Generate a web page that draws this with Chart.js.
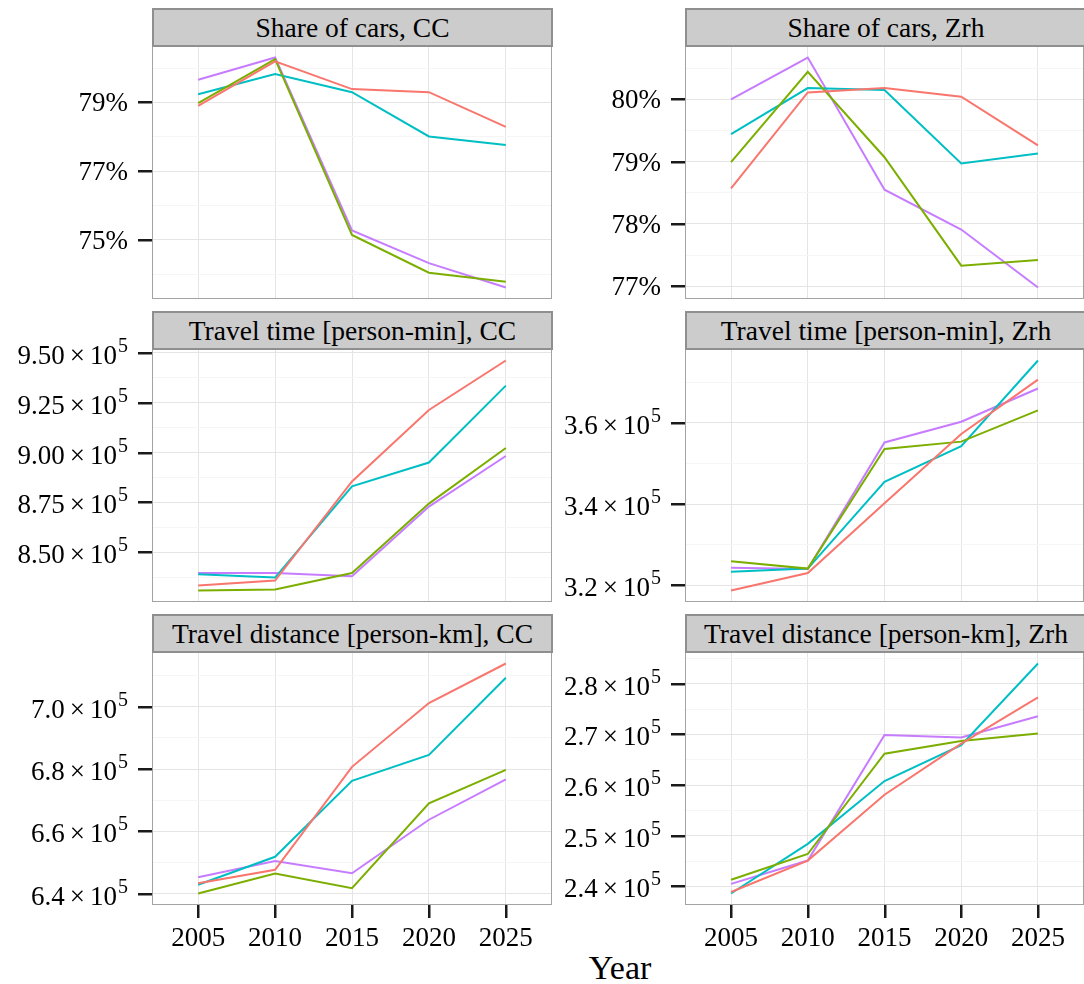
<!DOCTYPE html>
<html>
<head>
<meta charset="utf-8">
<script src="https://cdn.jsdelivr.net/npm/chart.js@4.4.0/dist/chart.umd.min.js"></script>
<style>
  body { margin: 0; background: #fff; width: 1084px; height: 984px; position: relative; overflow: hidden;
         font-family: "Liberation Serif", "Times New Roman", serif; }
  canvas { position: absolute; }
  .strip { position: absolute; box-sizing: border-box; height: 39px; background: #cccccc;
           border: 2px solid #8f8f8f; font-size: 27.5px; line-height: 1; color: #000;
           display: flex; align-items: center; justify-content: center; white-space: nowrap; z-index: 2; }
  #xtitle { position: absolute; left: 520px; width: 200px; top: 951px; text-align: center;
            font-size: 34px; line-height: 1; color: #000; }
</style>
</head>
<body>
<div id="xtitle">Year</div>
<script>
// data
const years = [2005, 2010, 2015, 2020, 2025];
const seriesNames = ["Scenario 1", "Scenario 2", "Scenario 3", "Scenario 4"];
const seriesColors = ["#F8766D", "#7CAE00", "#00BFC4", "#C77CFF"];

// share of cars [%], one row per series
const shareCC = [
    [78.90, 80.20, 79.39, 79.30, 78.29],
    [78.98, 80.26, 75.14, 74.04, 73.78],
    [79.24, 79.83, 79.30, 78.01, 77.76],
    [79.66, 80.31, 75.27, 74.32, 73.61],
];
const shareZrh = [
    [78.57, 80.11, 80.18, 80.04, 79.26],
    [78.99, 80.44, 79.07, 77.33, 77.42],
    [79.44, 80.18, 80.15, 78.97, 79.13],
    [80.00, 80.67, 78.55, 77.91, 76.98],
];
// travel time [person-min]
const timeCC = [
    [833300, 835800, 885500, 921400, 946200],
    [830800, 831300, 839600, 874400, 902300],
    [839000, 837300, 883100, 895000, 933600],
    [839600, 839600, 838000, 872900, 898300],
];
const timeZrh = [
    [318700, 323000, 340200, 357300, 370700],
    [325900, 324100, 353600, 355400, 363100],
    [323300, 324100, 345500, 354300, 375400],
    [324300, 324000, 355200, 360300, 368500],
];
// travel distance [person-km]
const distCC = [
    [643300, 647600, 680700, 701200, 713900],
    [640000, 646400, 641700, 669000, 679700],
    [642800, 651800, 676200, 684500, 709300],
    [645200, 650400, 646500, 663700, 676700],
];
const distZrh = [
    [238900, 245100, 258100, 268200, 277300],
    [241300, 246400, 266200, 268700, 270200],
    [238600, 248400, 260800, 267900, 284000],
    [240500, 245100, 269900, 269400, 273600],
];

// major y ticks per panel
const shareCcTicks = [75, 77, 79];
const shareZrhTicks = [77, 78, 79, 80];
const timeCcTicks = [850000, 875000, 900000, 925000, 950000];
const timeZrhTicks = [320000, 340000, 360000];
const distCcTicks = [640000, 660000, 680000, 700000];
const distZrhTicks = [240000, 250000, 260000, 270000, 280000];

const panels = [
    { title: "Share of cars, CC", values: shareCC, ticks: shareCcTicks, fmt: "pct", row: 0, col: 0 },
    { title: "Share of cars, Zrh", values: shareZrh, ticks: shareZrhTicks, fmt: "pct", row: 0, col: 1 },
    { title: "Travel time [person-min], CC", values: timeCC, ticks: timeCcTicks, fmt: 2, row: 1, col: 0 },
    { title: "Travel time [person-min], Zrh", values: timeZrh, ticks: timeZrhTicks, fmt: 1, row: 1, col: 1 },
    { title: "Travel distance [person-km], CC", values: distCC, ticks: distCcTicks, fmt: 1, row: 2, col: 0 },
    { title: "Travel distance [person-km], Zrh", values: distZrh, ticks: distZrhTicks, fmt: 1, row: 2, col: 1 },
];

// layout of the facet grid
const rows = [
    { stripTop: 8, top: 46, bottom: 299 },
    { stripTop: 311, top: 349, bottom: 602 },
    { stripTop: 614, top: 652, bottom: 905 },
];
const cols = [
    { canvasLeft: 0, left: 152, right: 552, canvasRight: 553 },
    { canvasLeft: 560, left: 685, right: 1086, canvasRight: 1084 },
];

const FONT = '"Liberation Serif", "Times New Roman", serif';
const TICK_LEN = 14;
Chart.defaults.font.family = FONT;
Chart.defaults.color = "#000";

function drawSci(ctx, v, right, py, dec) {
    const F = 27, S = 20;
    const exp = 5;
    const man = (v / Math.pow(10, exp)).toFixed(dec);
    ctx.font = F + "px " + FONT;
    const wm = ctx.measureText(man).width;
    const wx = ctx.measureText("\u00d7").width;
    const w10 = ctx.measureText("10").width;
    ctx.font = S + "px " + FONT;
    const we = ctx.measureText(String(exp)).width;
    const gap = 5;
    let x = right - (wm + gap + wx + gap + w10 + 1 + we);
    const base = py + 0.34 * F + 2;
    ctx.textAlign = "left";
    ctx.font = F + "px " + FONT;
    ctx.fillText(man, x, base);
    x += wm + gap;
    ctx.fillText("\u00d7", x, base);
    x += wx + gap;
    ctx.fillText("10", x, base);
    x += w10 + 1;
    ctx.font = S + "px " + FONT;
    ctx.fillText(String(exp), x, base - 0.45 * F);
}

// y labels, tick marks and panel border
const facetPlugin = {
    id: "facet",
    afterDraw(chart) {
        const { ctx, chartArea: a } = chart;
        const y = chart.scales.y, x = chart.scales.x;
        const opts = chart.options.plugins.facet;
        ctx.save();
        ctx.setLineDash([]);
        ctx.globalAlpha = 1;
        ctx.fillStyle = "#000";
        ctx.textBaseline = "alphabetic";
        const right = a.left - 13 - 11;
        y.ticks.filter(t => t.major).forEach(t => {
            const py = Math.round(y.getPixelForValue(t.value));
            ctx.fillStyle = "#1a1a1a";
            ctx.fillRect(a.left - TICK_LEN, py - 1, TICK_LEN, 2.5);
            ctx.fillStyle = "#000";
            if (opts.fmt === "pct") {
                ctx.font = "27px " + FONT;
                ctx.textAlign = "right";
                ctx.fillText(Math.round(t.value) + "%", right, py + 0.34 * 27);
            } else {
                drawSci(ctx, t.value, right, py, opts.fmt);
            }
        });
        if (opts.xTicks) {
            ctx.fillStyle = "#1a1a1a";
            x.ticks.forEach(t => {
                const px = Math.round(x.getPixelForValue(t.value));
                ctx.fillRect(px - 1, a.bottom, 2.5, 13);
            });
        }
        ctx.strokeStyle = "#a3a3a3";
        ctx.lineWidth = 1;
        ctx.strokeRect(a.left + 0.5, a.top + 0.5, a.right - a.left - 1, a.bottom - a.top - 1);
        ctx.restore();
    },
};

panels.forEach(p => {
    const r = rows[p.row], c = cols[p.col];
    const bottomRow = p.row === 2;
    const padTop = 16, padBottom = bottomRow ? 0 : 16, xh = bottomRow ? 64 : 0;
    const padRight = c.canvasRight - Math.min(c.right, c.canvasRight);

    const strip = document.createElement("div");
    strip.className = "strip";
    strip.style.left = c.left + "px";
    strip.style.top = r.stripTop + "px";
    strip.style.width = (c.right - c.left + 1) + "px";
    strip.textContent = p.title;
    document.body.appendChild(strip);

    const cv = document.createElement("canvas");
    cv.width = c.canvasRight - c.canvasLeft;
    cv.height = padTop + (r.bottom - r.top) + padBottom + xh;
    cv.style.left = c.canvasLeft + "px";
    cv.style.top = (r.top - padTop) + "px";
    document.body.appendChild(cv);

    const flat = p.values.flat();
    const lo = Math.min(...flat), hi = Math.max(...flat), ex = (hi - lo) * 0.05;
    const ymin = lo - ex, ymax = hi + ex;
    const step = p.ticks[1] - p.ticks[0];
    const minors = [];
    for (let v = p.ticks[0] - step / 2; v < ymax; v += step) if (v > ymin) minors.push(v);

    new Chart(cv, {
        type: "line",
        data: {
            datasets: p.values.map((vals, i) => ({
                label: seriesNames[i],
                data: years.map((yr, j) => ({ x: yr, y: vals[j] })),
                borderColor: seriesColors[i],
                borderWidth: 2,
                pointRadius: 0,
                tension: 0,
                fill: false,
            })),
        },
        options: {
            responsive: false,
            animation: false,
            layout: { padding: { top: padTop, bottom: padBottom, left: 0, right: padRight } },
            plugins: {
                legend: { display: false },
                tooltip: { enabled: false },
                facet: { fmt: p.fmt, xTicks: bottomRow },
            },
            scales: {
                x: {
                    type: "linear",
                    bounds: "data",
                    min: years[0] - 3,
                    max: years[years.length - 1] + 3,
                    afterBuildTicks: s => { s.ticks = years.map(v => ({ value: v })); },
                    afterFit: s => { s.height = xh; },
                    grid: { color: "#E5E5E5", lineWidth: 1, drawTicks: false },
                    border: { display: false },
                    ticks: { display: bottomRow, autoSkip: false, maxRotation: 0, padding: 18,
                             color: "#000", font: { size: 27 }, callback: v => String(v) },
                },
                y: {
                    type: "linear",
                    bounds: "data",
                    min: ymin,
                    max: ymax,
                    afterBuildTicks: s => {
                        s.ticks = p.ticks.map(v => ({ value: v, major: true }))
                            .concat(minors.map(v => ({ value: v, major: false })));
                    },
                    afterFit: s => { s.width = c.left - c.canvasLeft; },
                    grid: {
                        color: ctx => (ctx.tick && ctx.tick.major ? "#E5E5E5" : "#F5F5F5"),
                        lineWidth: 1,
                        drawTicks: false,
                    },
                    border: { display: false },
                    ticks: { display: false },
                },
            },
        },
        plugins: [facetPlugin],
    });
});
</script>
</body>
</html>
